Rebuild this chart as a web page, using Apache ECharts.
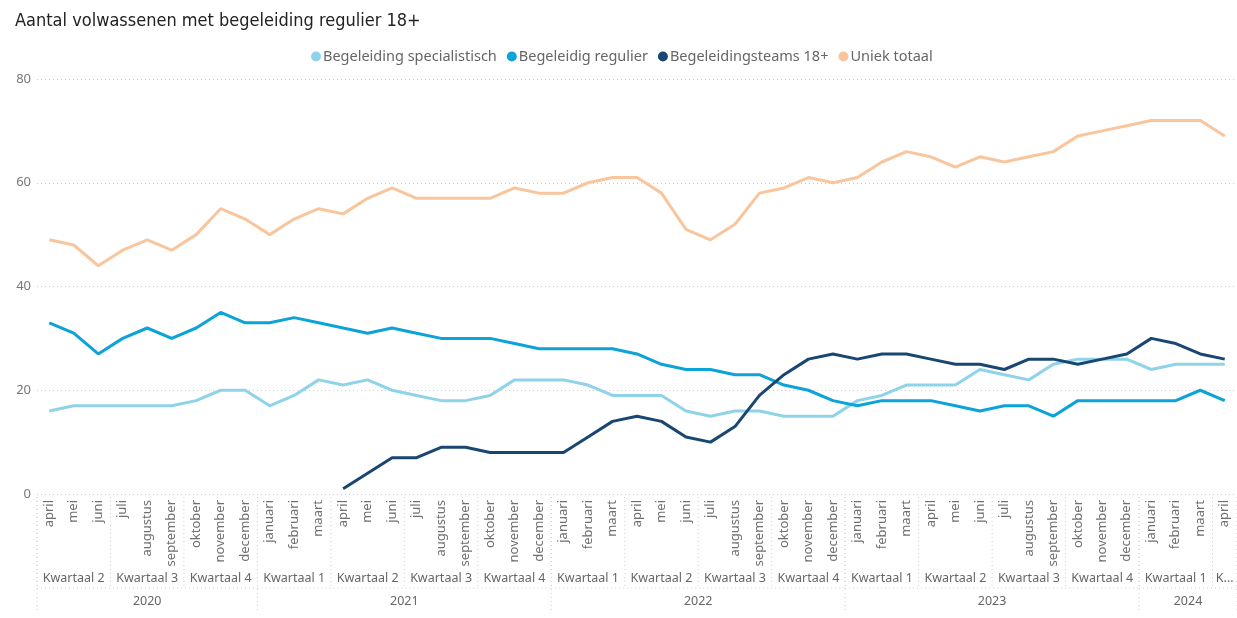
<!DOCTYPE html>
<html style="height: 100%">
<head>
<meta charset="utf-8">
<title>Aantal volwassenen met begeleiding regulier 18+</title>
<script src="https://cdn.jsdelivr.net/npm/echarts@6/dist/echarts.min.js"></script>
</head>
<body style="height: 100%; margin: 0; background: #fff">
<div id="container" style="width: 1237px; height: 618px"></div>
<script type="text/javascript">

// maanden april 2020 t/m april 2024
const months = [
  'april', 'mei', 'juni', 'juli', 'augustus', 'september', 'oktober', 'november', 'december',
  'januari', 'februari', 'maart', 'april', 'mei', 'juni', 'juli', 'augustus', 'september', 'oktober', 'november', 'december',
  'januari', 'februari', 'maart', 'april', 'mei', 'juni', 'juli', 'augustus', 'september', 'oktober', 'november', 'december',
  'januari', 'februari', 'maart', 'april', 'mei', 'juni', 'juli', 'augustus', 'september', 'oktober', 'november', 'december',
  'januari', 'februari', 'maart', 'april'
];

// groepen op de as: naam + aantal maanden
const quarterNames = [
  'Kwartaal 2', 'Kwartaal 3', 'Kwartaal 4',
  'Kwartaal 1', 'Kwartaal 2', 'Kwartaal 3', 'Kwartaal 4',
  'Kwartaal 1', 'Kwartaal 2', 'Kwartaal 3', 'Kwartaal 4',
  'Kwartaal 1', 'Kwartaal 2', 'Kwartaal 3', 'Kwartaal 4',
  'Kwartaal 1', 'Kwartaal 2'
];
const quarterSpans = [3, 3, 3, 3, 3, 3, 3, 3, 3, 3, 3, 3, 3, 3, 3, 3, 1];
const yearNames = ['2020', '2021', '2022', '2023', '2024'];
const yearSpans = [9, 12, 12, 12, 4];

const specialistisch = [
  16, 17, 17, 17, 17, 17, 18, 20, 20,
  17, 19, 22, 21, 22, 20, 19, 18, 18, 19, 22, 22,
  22, 21, 19, 19, 19, 16, 15, 16, 16, 15, 15, 15,
  18, 19, 21, 21, 21, 24, 23, 22, 25, 26, 26, 26,
  24, 25, 25, 25
];
const regulier = [
  33, 31, 27, 30, 32, 30, 32, 35, 33,
  33, 34, 33, 32, 31, 32, 31, 30, 30, 30, 29, 28,
  28, 28, 28, 27, 25, 24, 24, 23, 23, 21, 20, 18,
  17, 18, 18, 18, 17, 16, 17, 17, 15, 18, 18, 18,
  18, 18, 20, 18
];
const teams = [
  null, null, null, null, null, null, null, null, null,
  null, null, null, 1, 4, 7, 7, 9, 9, 8, 8, 8,
  8, 11, 14, 15, 14, 11, 10, 13, 19, 23, 26, 27,
  26, 27, 27, 26, 25, 25, 24, 26, 26, 25, 26, 27,
  30, 29, 27, 26
];
const uniek = [
  49, 48, 44, 47, 49, 47, 50, 55, 53,
  50, 53, 55, 54, 57, 59, 57, 57, 57, 57, 59, 58,
  58, 60, 61, 61, 58, 51, 49, 52, 58, 59, 61, 60,
  61, 64, 66, 65, 63, 65, 64, 65, 66, 69, 70, 71,
  72, 72, 72, 69
];

const seriesNames = ['Begeleiding specialistisch', 'Begeleidig regulier', 'Begeleidingsteams 18+', 'Uniek totaal'];
const seriesColors = ['#8FD3EA', '#0CA3D9', '#1A4672', '#F9C59C'];

// groepen omzetten naar [start, eind, niveau, naamindex]
function groups(spans, level) {
  let out = [];
  let start = 0;
  spans.forEach(function (n, i) {
    out.push([start, start + n - 1, level, i]);
    start += n;
  });
  return out;
}
const axisGroups = groups(quarterSpans, 0).concat(groups(yearSpans, 1));

const dotted = { stroke: '#d0d0d0', lineWidth: 1, lineDash: [1, 3] };

function renderGroup(params, api) {
  const start = api.value(0), end = api.value(1), level = api.value(2), idx = api.value(3);
  const bw = api.size([1, 0])[0];
  const p0 = api.coord([start, 0]);
  const p1 = api.coord([end, 0]);
  const x0 = p0[0] - bw / 2;
  const x1 = p1[0] + bw / 2;
  const base = p0[1];
  const children = [];
  const name = level === 0 ? quarterNames[idx] : yearNames[idx];
  const bottom = level === 0 ? base + 94 : base + 119;
  children.push({
    type: 'text',
    style: {
      text: name,
      x: (x0 + x1) / 2,
      y: level === 0 ? base + 84 : base + 107,
      align: 'center',
      verticalAlign: 'middle',
      fill: '#666',
      fontSize: 12.5,
      fontFamily: 'Noto Sans',
      width: x1 - x0,
      overflow: 'truncate',
      ellipsis: '...'
    }
  });
  children.push({
    type: 'line',
    shape: { x1: x1, y1: base + 3, x2: x1, y2: bottom },
    style: dotted
  });
  if (start === 0) {
    children.push({
      type: 'line',
      shape: { x1: x0, y1: base + 3, x2: x0, y2: bottom },
      style: dotted
    });
  }
  if (level === 1) {
    children.push({
      type: 'line',
      shape: { x1: x0, y1: base + 94, x2: x1, y2: base + 94 },
      style: dotted
    });
  }
  return { type: 'group', children: children };
}

const chart = echarts.init(document.getElementById('container'));

const lineSeries = [specialistisch, regulier, teams, uniek].map(function (d, i) {
  return {
    name: seriesNames[i],
    type: 'line',
    data: d,
    symbol: 'none',
    smooth: false,
    connectNulls: false,
    lineStyle: { width: 3, color: seriesColors[i] },
    itemStyle: { color: seriesColors[i] },
    z: 3 + i
  };
});

chart.setOption({
  animation: false,
  title: {
    text: 'Aantal volwassenen met begeleiding regulier 18+',
    left: 10,
    top: 7,
    textStyle: {
      color: '#222',
      fontSize: 18,
      fontWeight: 'normal',
      fontFamily: 'DejaVu Sans Condensed'
    }
  },
  legend: {
    data: seriesNames,
    top: 44,
    left: 306,
    icon: 'circle',
    itemWidth: 10,
    itemHeight: 10,
    itemGap: 10,
    textStyle: { color: '#666', fontSize: 14.5, fontFamily: 'Noto Sans', padding: [0, 0, 0, -3] }
  },
  grid: { left: 37, right: 0, top: 79, bottom: 124, containLabel: false },
  xAxis: {
    type: 'category',
    data: months,
    boundaryGap: true,
    axisLine: { show: false },
    axisTick: { show: false },
    axisLabel: {
      rotate: 90,
      interval: 0,
      margin: 6,
      color: '#707070',
      fontSize: 13,
      fontFamily: 'Noto Sans'
    }
  },
  yAxis: {
    type: 'value',
    min: 0,
    max: 80,
    interval: 20,
    axisLabel: { color: '#777', fontSize: 13, margin: 6, fontFamily: 'Noto Sans' },
    splitLine: { lineStyle: { color: '#ccc', type: [1, 3] } }
  },
  series: lineSeries.concat([{
    type: 'custom',
    data: axisGroups,
    renderItem: renderGroup,
    clip: false,
    silent: true,
    encode: { x: 0, y: 2 },
    z: 1
  }])
});
</script>
</body>
</html>
